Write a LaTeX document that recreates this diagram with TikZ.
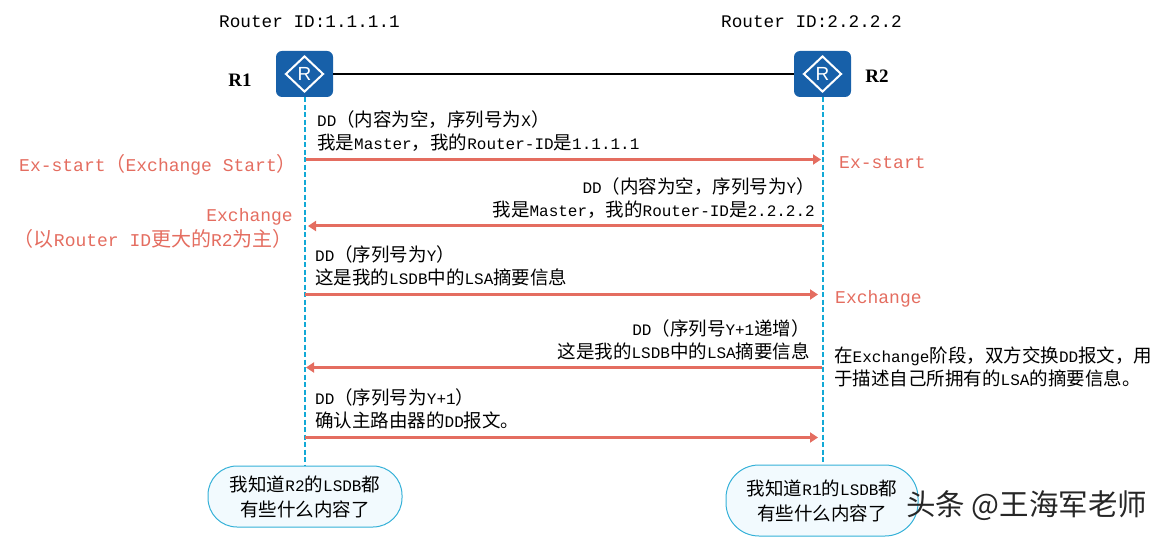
\documentclass[tikz,border=0pt]{standalone}
\usepackage{fontspec}
\usetikzlibrary{arrows.meta,shapes.geometric}
\setmainfont{Liberation Mono}
\newfontfamily\cjkf{Noto Sans CJK SC}
\newfontfamily\serifb{Liberation Serif}
\newfontfamily\sansf{Liberation Sans}
\newcommand{\csz}{18.5}
\newcommand{\C}[1]{{\cjkf\fontsize{\csz}{23}\selectfont #1}}
\definecolor{rblue}{HTML}{1760A9}
\definecolor{coral}{HTML}{E46D60}
\definecolor{lifeblue}{HTML}{12A9D6}
\definecolor{bubfill}{HTML}{F2FAFE}
\definecolor{bubline}{HTML}{35B1D8}
\tikzset{
  router/.style={draw=none,fill=rblue,rounded corners=6pt,minimum width=57pt,minimum height=46pt,inner sep=0pt},
  diam/.style={diamond,draw=white,line width=2pt,minimum width=38pt,minimum height=36pt,inner sep=0pt,text=white,font=\sansf\fontsize{19}{19}\selectfont},
  rname/.style={font=\serifb\bfseries\fontsize{19}{19}\selectfont,inner sep=0pt},
  rid/.style={anchor=west,inner sep=0pt,font=\fontsize{17.7}{22}\selectfont},
  lbl/.style={inner sep=0pt,font=\fontsize{16}{23}\selectfont},
  lblL/.style={lbl,anchor=west,align=left},
  lblR/.style={lbl,anchor=east,align=right},
  state/.style={inner sep=0pt,text=coral,font=\fontsize{18}{25}\selectfont\renewcommand{\csz}{20}},
  life/.style={draw=lifeblue,line width=2pt,dash pattern=on 5pt off 2.5pt},
  msg/.style={draw=coral,line width=3pt,-{Triangle[length=8pt,width=10pt]}},
  bubble/.style={draw=bubline,line width=1pt,fill=bubfill,inner sep=0pt,align=center,font=\fontsize{16}{25}\selectfont},
}
\begin{document}
\begin{tikzpicture}[x=1pt,y=-1pt]
\useasboundingbox (0,0) rectangle (1165,537);
\node[rid] (idA) at (219,22) {Router ID:1.1.1.1};
\node[rid] (idB) at (721,22) {Router ID:2.2.2.2};
\node[router] (r1) at (304.5,74) {};
\node[router] (r2) at (822.5,74) {};
\node[diam] (d1) at (r1.center) {R};
\node[diam] (d2) at (r2.center) {R};
\node[rname] (n1) at (240,80) {R1};
\node[rname] (n2) at (877,76) {R2};
\draw[line width=2pt] (r1.east) -- (r2.west);
\node[bubble,rounded corners=29pt,minimum width=194pt,minimum height=61pt] (b1) at (305,496.5) {\C{我知道}R2\C{的}LSDB\C{都}\\\C{有些什么内容了}};
\node[bubble,rounded corners=33pt,minimum width=192pt,minimum height=71pt] (b2) at (822,500.5) {\C{我知道}R1\C{的}LSDB\C{都}\\\C{有些什么内容了}};
\draw[life] (r1.south) -- (r1.south |- b1.north);
\draw[life] (r2.south) -- (r2.south |- b2.north);
\coordinate (a1s) at (306,159.5); \coordinate (a1e) at (821,159.5);
\coordinate (a2s) at (822,226); \coordinate (a2e) at (308,226);
\coordinate (a3s) at (305,294.5); \coordinate (a3e) at (818,294.5);
\coordinate (a4s) at (822,367.5); \coordinate (a4e) at (306,367.5);
\coordinate (a5s) at (305,437.5); \coordinate (a5e) at (818,437.5);
\draw[msg] (a1s) -- (a1e);
\draw[msg] (a2s) -- (a2e);
\draw[msg] (a3s) -- (a3e);
\draw[msg] (a4s) -- (a4e);
\draw[msg] (a5s) -- (a5e);
\node[lblL] (t1) at (317,131) {DD\C{（内容为空，序列号为}X\C{）}\\\C{我是}Master\C{，我的}Router-ID\C{是}1.1.1.1};
\node[lblR] (t2) at (815,198.5) {DD\C{（内容为空，序列号为}Y\C{）}\hspace{5pt}\\\C{我是}Master\C{，我的}Router-ID\C{是}2.2.2.2};
\node[lblL] (t3) at (315,266) {DD\C{（序列号为}Y\C{）}\\\C{这是我的}LSDB\C{中的}LSA\C{摘要信息}};
\node[lblR] (t4) at (810,340) {DD\C{（序列号}Y+1\C{递增）}\hspace{5pt}\\\C{这是我的}LSDB\C{中的}LSA\C{摘要信息}};
\node[lblL] (t5) at (315,409) {DD\C{（序列号为}Y+1\C{）}\\\C{确认主路由器的}DD\C{报文。}};
\node[lblL] (t6) at (834,367) {\C{在}Exchange\C{阶段，双方交换}DD\C{报文，用}\\\C{于描述自己所拥有的}LSA\C{的摘要信息。}};
\node[state,anchor=west] (s1) at (19,164.5) {Ex-start\C{（}Exchange Start\C{）}};
\node[state,anchor=west] (s2) at (839,163) {Ex-start};
\node[state,anchor=east,align=right] (s3) at (293,228.5) {Exchange\\\C{（以}Router ID\C{更大的}R2\C{为主）}};
\node[state,anchor=west] (s4) at (835,299) {Exchange};
\node[inner sep=0pt,anchor=west,font=\cjkf\fontsize{29.5}{30}\selectfont,text=black!85] (wm) at (906,506) {头条 @王海军老师};
\end{tikzpicture}
\end{document}
